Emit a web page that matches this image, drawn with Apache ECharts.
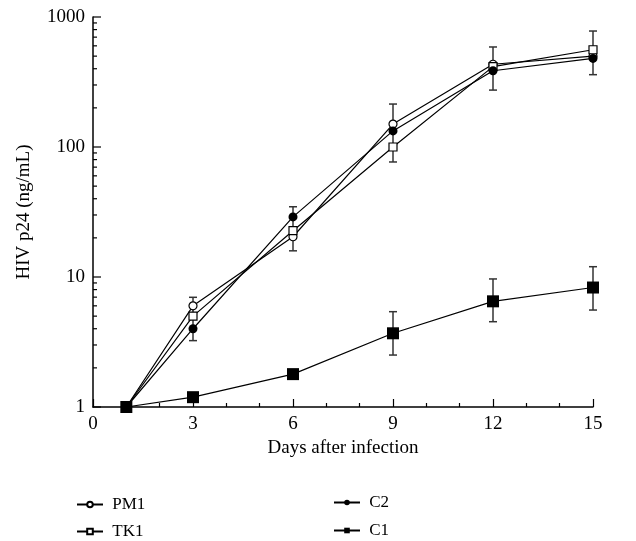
<!DOCTYPE html>
<html><head><meta charset="utf-8">
<script src="https://cdn.jsdelivr.net/npm/echarts@6/dist/echarts.min.js"></script>
<style>html,body{margin:0;padding:0;background:#fff}#c{width:636px;height:541px}</style>
</head><body><div id="c"></div>
<script>
const days = [1, 3, 6, 9, 12, 15];
const pm1 = [1, 6.0, 20.4, 150, 433, 500];
const tk1 = [1, 5.0, 22.7, 100, 415, 560];
const c2 = [1, 4.0, 29, 133, 386, 480];
const c1 = [1, 1.19, 1.79, 3.69, 6.5, 8.3];
const errDays = [3, 6, 9, 12, 15];
const errLow = [3.24, 15.9, 76.7, 274, 360];
const errHigh = [6.98, 34.7, 214, 588, 780];
const c1ErrDays = [9, 12, 15];
const c1ErrLow = [2.51, 4.53, 5.57];
const c1ErrHigh = [5.41, 9.66, 12.0];
const yMinor = [2,3,4,5,6,7,8,9,20,30,40,50,60,70,80,90,200,300,400,500,600,700,800,900];
const yTicks = [1, 10, 100, 1000];

const FONT = 'Liberation Serif';
const pair = (xs, ys) => xs.map((x, i) => [x, ys[i]]);
const errData = errDays.map((d, i) => [d, errLow[i], errHigh[i]])
  .concat(c1ErrDays.map((d, i) => [d, c1ErrLow[i], c1ErrHigh[i]]));

function errRender(params, api) {
  const x = api.value(0);
  const lo = api.coord([x, api.value(1)]);
  const hi = api.coord([x, api.value(2)]);
  const w = 4;
  const st = { stroke: '#333', lineWidth: 1.5 };
  return { type: 'group', children: [
    { type: 'line', shape: { x1: lo[0], y1: lo[1], x2: hi[0], y2: hi[1] }, style: st },
    { type: 'line', shape: { x1: lo[0] - w, y1: lo[1], x2: lo[0] + w, y2: lo[1] }, style: st },
    { type: 'line', shape: { x1: hi[0] - w, y1: hi[1], x2: hi[0] + w, y2: hi[1] }, style: st }
  ]};
}
function yTickRender(params, api) {
  const v = api.value(0);
  const p = api.coord([0, v]);
  const len = yTicks.indexOf(v) >= 0 ? 8 : 4;
  return { type: 'line', shape: { x1: p[0], y1: p[1], x2: p[0] + len, y2: p[1] },
    style: { stroke: '#000', lineWidth: 1.2 } };
}

const legendText = { fontFamily: FONT, fontSize: 17, color: '#000' };
function leg(name, left, top) {
  return { data: [name], left: left, top: top, itemWidth: 26, itemHeight: 7, textStyle: legendText, padding: 0,
    formatter: n => ' ' + n };
}

const lineBase = { type: 'line', lineStyle: { color: '#000', width: 1.2 }, itemStyle: { color: '#000' }, z: 3 };
const chart = echarts.init(document.getElementById('c'));
chart.setOption({
  animation: false,
  textStyle: { fontFamily: FONT },
  grid: { left: 93, right: 43, top: 17, bottom: 134, containLabel: false },
  xAxis: {
    type: 'value', min: 0, max: 15, interval: 3,
    name: 'Days after infection', nameLocation: 'middle', nameGap: 31,
    nameTextStyle: { fontFamily: FONT, fontSize: 19, color: '#000' },
    axisLine: { lineStyle: { color: '#000', width: 1.5 } },
    axisTick: { inside: true, length: 8, lineStyle: { color: '#000', width: 1.2 } },
    minorTick: { show: true, splitNumber: 3, length: 4, lineStyle: { color: '#000', width: 1.2 } },
    axisLabel: { fontFamily: FONT, fontSize: 19, color: '#000', margin: 8 },
    splitLine: { show: false }
  },
  yAxis: {
    type: 'log', logBase: 10, min: 1, max: 1000,
    name: 'HIV p24 (ng/mL)', nameLocation: 'middle', nameGap: 59,
    nameTextStyle: { fontFamily: FONT, fontSize: 19, color: '#000' },
    axisLine: { show: true, lineStyle: { color: '#000', width: 1.5 } },
    axisTick: { show: false },
    axisLabel: { fontFamily: FONT, fontSize: 19, color: '#000', margin: 8, formatter: v => String(Math.round(v)) },
    splitLine: { show: false }
  },
  legend: [
    leg('PM1', 76, 496),
    leg('TK1', 76, 523),
    leg('C2', 333, 494),
    leg('C1', 333, 522)
  ],
  series: [
    { type: 'custom', name: 'err', renderItem: errRender, data: errData, z: 2, silent: true },
    { type: 'custom', name: 'yticks', renderItem: yTickRender, data: yMinor.concat(yTicks).map(v => [v]), encode: { y: 0 }, silent: true },
    Object.assign({}, lineBase, { name: 'PM1', data: pair(days, pm1), symbol: 'circle', symbolSize: 8,
      itemStyle: { color: '#fff', borderColor: '#000', borderWidth: 1.2 } }),
    Object.assign({}, lineBase, { name: 'TK1', data: pair(days, tk1), symbol: 'rect', symbolSize: 8,
      itemStyle: { color: '#fff', borderColor: '#000', borderWidth: 1.2 } }),
    Object.assign({}, lineBase, { name: 'C2', data: pair(days, c2), symbol: 'circle', symbolSize: 9,
      itemStyle: { color: '#000' } }),
    Object.assign({}, lineBase, { name: 'C1', data: pair(days, c1), symbol: 'rect', symbolSize: 12,
      itemStyle: { color: '#000' } })
  ]
});
</script></body></html>
